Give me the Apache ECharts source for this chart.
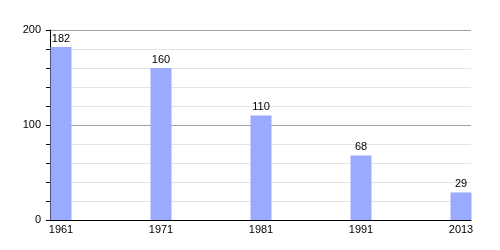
<!DOCTYPE html>
<html><head><meta charset="utf-8">
<script src="https://cdn.jsdelivr.net/npm/echarts@6/dist/echarts.min.js"></script>
<style>html,body{margin:0;padding:0;background:#fff}#c{width:500px;height:250px}</style>
</head><body><div id="c"></div>
<script>
var years = ['1961', '1971', '1981', '1991', '2013'];
var values = [182, 160, 110, 68, 29];
var yTicks = [0, 100, 200];

var chart = echarts.init(document.getElementById('c'), null, {renderer: 'canvas'});
var font = 'Liberation Sans, Arial, sans-serif';
chart.setOption({
  animation: false,
  grid: {left: 50, right: 29, top: 30, bottom: 30, containLabel: false},
  xAxis: {
    type: 'value', min: -0.11, max: 4.1,
    axisLine: {show: true, onZero: false, lineStyle: {color: '#000', width: 1}},
    axisTick: {show: false},
    splitLine: {show: false},
    axisLabel: {
      customValues: years.map(function (y, i) { return i; }),
      formatter: function (v) { return years[Math.round(v)]; },
      color: '#000', fontFamily: font, fontSize: 11, margin: 4
    }
  },
  yAxis: {
    type: 'value', min: 0, max: 200, interval: 100,
    axisLine: {show: true, onZero: false, lineStyle: {color: '#000', width: 1}},
    axisTick: {show: true, length: 4, lineStyle: {color: '#000'}},
    minorTick: {show: true, splitNumber: 5, length: 4, lineStyle: {color: '#000'}},
    splitLine: {show: true, lineStyle: {color: '#a0a0a0', width: 1}},
    minorSplitLine: {show: true, lineStyle: {color: '#e3e3e3', width: 1}},
    axisLabel: {color: '#000', fontFamily: font, fontSize: 11, margin: 9}
  },
  series: [{
    type: 'bar',
    barWidth: 21,
    data: values.map(function (v, i) { return [i, v]; }),
    itemStyle: {color: '#99aaff'},
    label: {show: true, position: 'top', distance: 3, color: '#000', fontFamily: font, fontSize: 11,
      formatter: function (p) { return p.value[1]; }}
  }]
});
</script></body></html>
